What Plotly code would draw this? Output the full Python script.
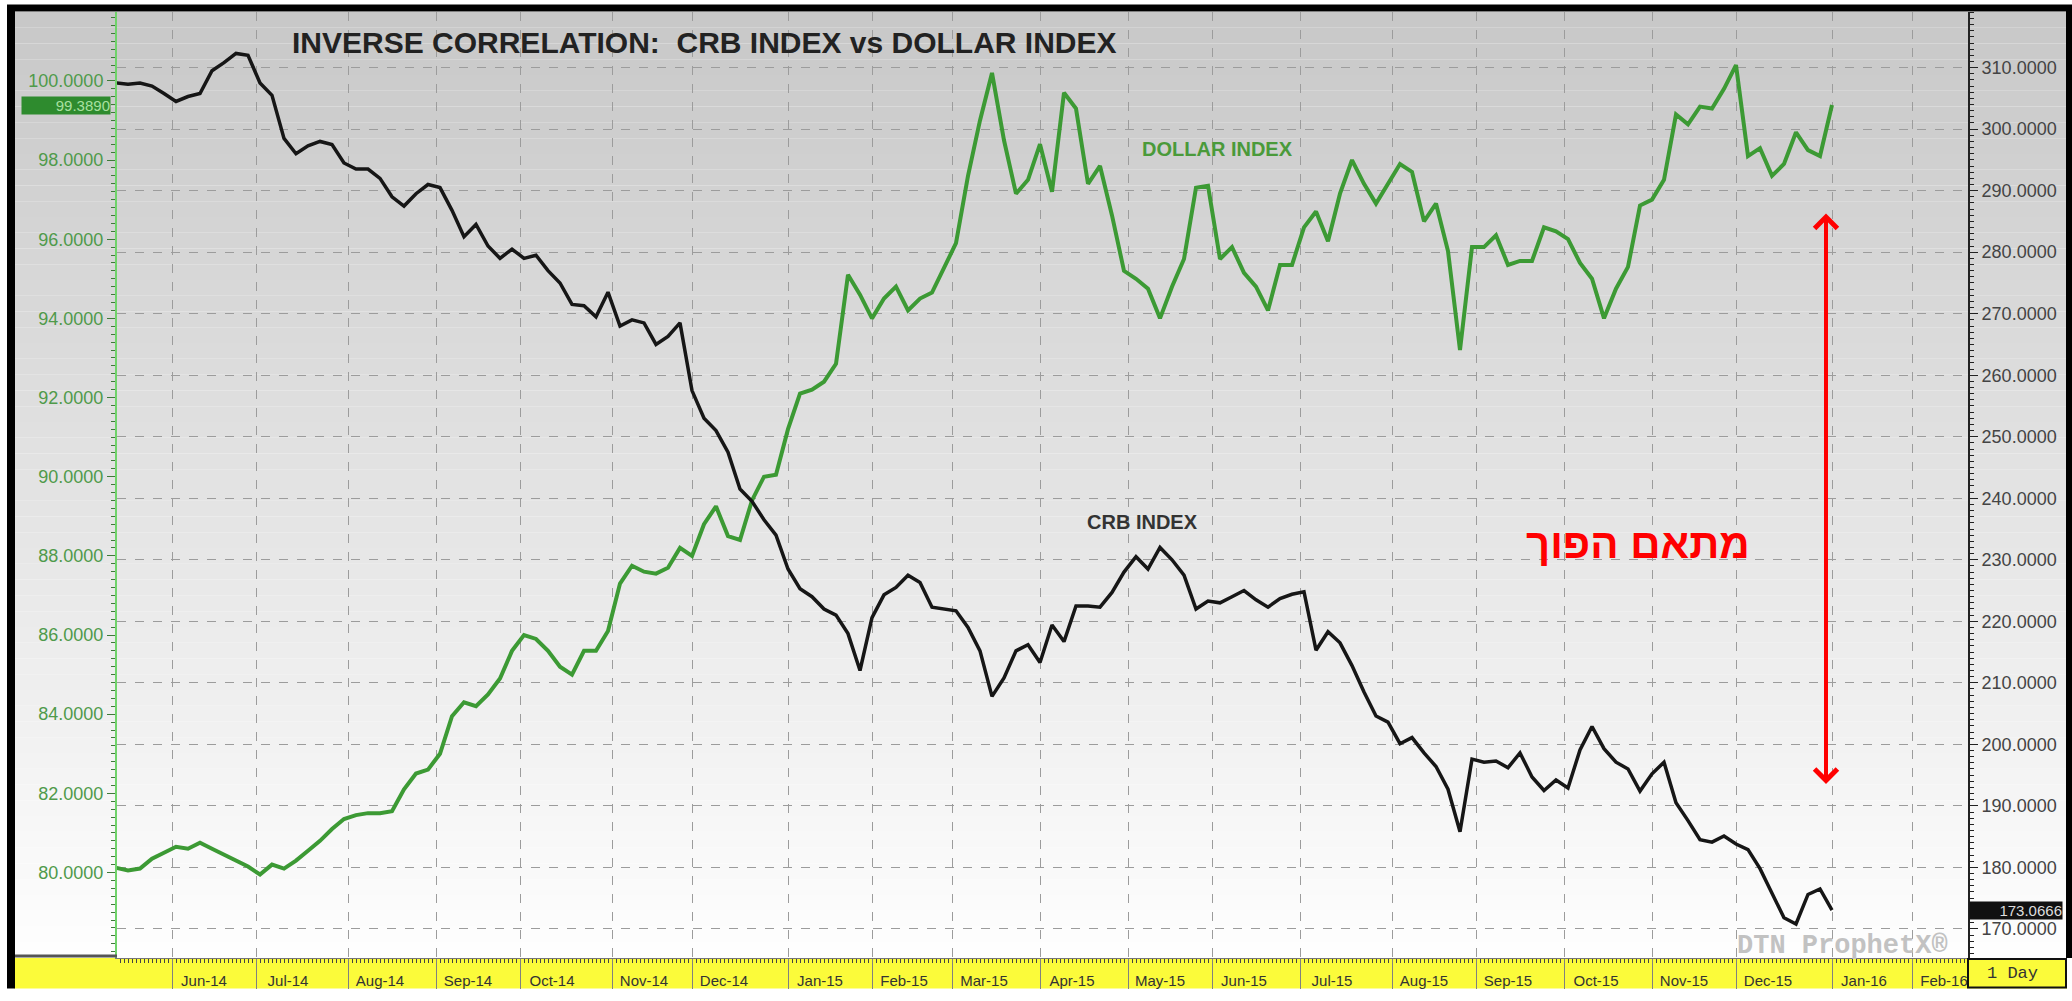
import plotly.graph_objects as go
import pandas as pd

# values, one reading every 3 trading days from 13 May 2014
crb_index = [
    307.5, 307.3, 307.5, 307.0, 305.8, 304.5, 305.3, 305.8, 309.5, 310.8,
    312.3, 312.0, 307.5, 305.5, 298.5, 296.0, 297.3, 298.0, 297.5, 294.5,
    293.5, 293.5, 292.0, 289.0, 287.5, 289.5, 291.0, 290.5, 286.8, 282.5,
    284.5, 281.0, 279.0, 280.5, 279.0, 279.5, 277.0, 275.0, 271.5, 271.3,
    269.5, 273.5, 268.0, 269.0, 268.5, 265.0, 266.3, 268.5, 257.5, 253.0,
    251.0, 247.5, 241.5, 239.5, 236.5, 234.0, 228.5, 225.3, 224.0, 222.0,
    221.0, 218.0, 212.0, 220.6, 224.3, 225.5, 227.5, 226.3, 222.3, 222.0,
    221.7, 219.0, 215.2, 207.8, 210.8, 215.2, 216.2, 213.3, 219.4, 216.7,
    222.5, 222.5, 222.3, 224.7, 228.0, 230.5, 228.5, 232.0, 230.0, 227.5,
    222.0, 223.3, 223.0, 224.0, 225.0, 223.5, 222.3, 223.7, 224.4, 224.8,
    215.3, 218.3, 216.5, 212.8, 208.5, 204.6, 203.6, 200.1, 201.1, 198.6,
    196.4, 192.7, 185.8, 197.6, 197.1, 197.3, 196.2, 198.6, 194.7, 192.5,
    194.2, 192.9, 199.1, 202.9, 199.3, 197.1, 196.0, 192.4, 195.2, 197.1,
    190.5, 187.6, 184.5, 184.1, 185.1, 183.8, 182.9, 179.8, 175.8, 171.8,
    170.8, 175.6, 176.5, 173.0666,
]

dollar_index = [
    80.12, 80.05, 80.10, 80.35, 80.50, 80.65, 80.60, 80.75, 80.60, 80.45,
    80.30, 80.15, 79.95, 80.20, 80.10, 80.30, 80.55, 80.80, 81.10, 81.35,
    81.45, 81.50, 81.50, 81.55, 82.10, 82.50, 82.60, 83.00, 83.95, 84.30,
    84.20, 84.50, 84.90, 85.60, 86.00, 85.90, 85.60, 85.20, 85.00, 85.60,
    85.60, 86.10, 87.30, 87.75, 87.60, 87.55, 87.70, 88.20, 88.00, 88.80,
    89.25, 88.50, 88.40, 89.40, 90.00, 90.05, 91.20, 92.10, 92.20, 92.40,
    92.85, 95.10, 94.60, 94.00, 94.50, 94.80, 94.20, 94.50, 94.65, 95.25,
    95.90, 97.60, 99.00, 100.20, 98.50, 97.15, 97.50, 98.40, 97.20, 99.70,
    99.30, 97.40, 97.85, 96.60, 95.20, 95.00, 94.75, 94.00, 94.80, 95.50,
    97.30, 97.35, 95.50, 95.80, 95.15, 94.80, 94.20, 95.35, 95.35, 96.30,
    96.70, 95.95, 97.15, 98.00, 97.40, 96.90, 97.40, 97.90, 97.70, 96.45,
    96.90, 95.70, 93.20, 95.80, 95.80, 96.10, 95.35, 95.45, 95.45, 96.30,
    96.20, 96.00, 95.40, 95.00, 94.00, 94.75, 95.30, 96.85, 97.00, 97.50,
    99.15, 98.90, 99.35, 99.30, 99.80, 100.40, 98.10, 98.30, 97.60, 97.90,
    98.70, 98.25, 98.10, 99.389,
]

month_ticks = [
    "2014-06-02", "2014-07-01", "2014-08-01", "2014-09-02", "2014-10-01",
    "2014-11-03", "2014-12-01", "2015-01-02", "2015-02-02", "2015-03-02",
    "2015-04-01", "2015-05-01", "2015-06-01", "2015-07-01", "2015-08-03",
    "2015-09-01", "2015-10-01", "2015-11-02", "2015-12-01", "2016-01-04",
    "2016-02-01",
]
month_labels = [
    "Jun-14", "Jul-14", "Aug-14", "Sep-14", "Oct-14", "Nov-14", "Dec-14",
    "Jan-15", "Feb-15", "Mar-15", "Apr-15", "May-15", "Jun-15", "Jul-15",
    "Aug-15", "Sep-15", "Oct-15", "Nov-15", "Dec-15", "Jan-16", "Feb-16",
]
dollar_ticks = [80, 82, 84, 86, 88, 90, 92, 94, 96, 98, 100]

dates = pd.bdate_range("2014-05-13", periods=len(crb_index), freq="3B")

W, H = 2072, 1001
L, R, T, B = 117, 1968, 12, 970
GREEN = "#3c9a34"
YELLOW = "#fbfb3a"
GRID = "#9c9c9c"
FONT = "Liberation Sans, Arial, sans-serif"


def px(x):
    return (x - L) / (R - L)


def py(y):
    return (B - y) / (B - T)


fig = go.Figure()

fig.add_trace(go.Scatter(
    x=dates, y=dollar_index, mode="lines", name="DOLLAR INDEX",
    line=dict(color=GREEN, width=4), yaxis="y",
))
fig.add_trace(go.Scatter(
    x=dates, y=crb_index, mode="lines", name="CRB INDEX",
    line=dict(color="#161616", width=3.5), yaxis="y2",
))

shapes = []
# grey-to-white background
n = 60
top_c, bot_c = 200, 254
for i in range(n):
    y0 = T + (B - T) * i / n
    y1 = T + (B - T) * (i + 1) / n
    c = round(top_c + (bot_c - top_c) * i / (n - 1))
    shapes.append(dict(
        type="rect", xref="paper", yref="paper", layer="below",
        x0=px(14), x1=px(2067), y0=py(y1), y1=py(y0),
        fillcolor=f"rgb({c},{c},{c})", line=dict(width=0),
    ))
# yellow date band and "1 Day" box
shapes.append(dict(type="rect", xref="paper", yref="paper", layer="below",
                   x0=px(14), x1=px(2067), y0=py(H), y1=0,
                   fillcolor=YELLOW, line=dict(width=0)))
shapes.append(dict(type="line", xref="paper", yref="paper", layer="above",
                   x0=px(14), x1=0, y0=py(968), y1=py(968),
                   line=dict(color="#555", width=3)))
shapes.append(dict(type="rect", xref="paper", yref="paper", layer="above",
                   x0=1, x1=px(2066), y0=py(H - 1), y1=py(971),
                   fillcolor=YELLOW, line=dict(color="#111", width=2)))
# outer frame
shapes.append(dict(type="line", xref="paper", yref="paper", layer="above",
                   x0=px(11), x1=px(11), y0=py(H), y1=py(5),
                   line=dict(color="#000", width=8)))
shapes.append(dict(type="line", xref="paper", yref="paper", layer="above",
                   x0=px(7), x1=px(W), y0=py(8), y1=py(8),
                   line=dict(color="#000", width=7)))
shapes.append(dict(type="line", xref="paper", yref="paper", layer="above",
                   x0=px(2069), x1=px(2069), y0=py(970), y1=py(5),
                   line=dict(color="#000", width=6)))

annotations = [
    dict(text="<b>INVERSE CORRELATION:  CRB INDEX vs DOLLAR INDEX</b>",
         x=px(704), y=py(43), font=dict(size=30, color="#222", family=FONT)),
    dict(text="<b>DOLLAR INDEX</b>", x=px(1217), y=py(151),
         font=dict(size=20, color="#4a9a3a", family=FONT)),
    dict(text="<b>CRB INDEX</b>", x=px(1142), y=py(528),
         font=dict(size=20, color="#333", family=FONT)),
    dict(text="<b>מתאם הפוך</b>", x=px(1638), y=py(550),
         font=dict(size=42, color="#ff0000", family="Liberation Sans, DejaVu Sans")),
    dict(text="<b>DTN ProphetX®</b>", x=px(1842), y=py(958),
         font=dict(size=27, color="#c2c2c2", family="Liberation Mono, monospace")),
    dict(text="1 Day", x=px(2012), y=py(986),
         font=dict(size=17, color="#333", family="Liberation Mono, monospace")),
    # double headed red arrow
    dict(text="", x=px(1826), y=py(216), ax=0, ay=572, showarrow=True,
         arrowhead=4, startarrowhead=4, arrowside="end+start",
         arrowsize=1.1, startarrowsize=1.1, arrowwidth=4, arrowcolor="#ff0000"),
    # last value flags
    dict(text=f"{dollar_index[-1]:.4f}", xref="paper", yref="y", x=0, y=dollar_index[-1],
         xanchor="right", xshift=-6, width=88, align="right", bgcolor="#2e8b2e",
         font=dict(size=15, color="#a8e0a0", family=FONT), borderpad=0),
    dict(text=f"{crb_index[-1]:.4f}", xref="paper", yref="y2", x=1, y=crb_index[-1],
         xanchor="left", xshift=1, width=92, align="right", bgcolor="#111",
         font=dict(size=15, color="#dddddd", family=FONT), borderpad=0),
]
for a in annotations:
    a.setdefault("xref", "paper")
    a.setdefault("yref", "paper")
    a.setdefault("xanchor", "center")
    a.setdefault("yanchor", "middle")
    a.setdefault("showarrow", False)

fig.update_layout(
    width=W, height=H,
    margin=dict(l=L, r=W - R, t=T, b=H - B),
    paper_bgcolor="white",
    plot_bgcolor="rgba(0,0,0,0)",
    showlegend=False,
    shapes=shapes,
    annotations=annotations,
    font=dict(family=FONT),
    xaxis=dict(
        type="date",
        range=["2014-05-13 06:00", "2016-02-19"],
        rangebreaks=[dict(bounds=["sat", "mon"])],
        tickvals=month_ticks, ticktext=month_labels,
        ticks="outside", ticklen=30, tickcolor="#808080", tickwidth=1,
        ticklabelshift=32, ticklabelstandoff=-21,
        tickfont=dict(size=15, color="#333"),
        showgrid=True, gridcolor=GRID, griddash="dash", gridwidth=1,
        showline=True, linecolor="#777", linewidth=1,
        minor=dict(ticks="outside", ticklen=4, tickcolor="#444",
                   dtick=86400000, showgrid=False),
        zeroline=False,
    ),
    yaxis=dict(
        range=[77.84, 101.74],
        tickvals=dollar_ticks, tickformat=".4f",
        tickfont=dict(size=18, color="#4f9a4a"),
        ticks="outside", ticklen=8, tickcolor="#3f7a3a",
        minor=dict(ticks="outside", ticklen=4, dtick=0.2, tickcolor="#3f7a3a"),
        showgrid=False, zeroline=False,
        showline=True, linecolor="#6fd36a", linewidth=2,
    ),
    yaxis2=dict(
        range=[165.27, 319.04], overlaying="y", side="right",
        tick0=0, dtick=10, tickformat=".4f",
        tickfont=dict(size=18, color="#444"),
        ticks="outside", ticklen=8, tickcolor="#222",
        minor=dict(ticks="outside", ticklen=4, dtick=1, tickcolor="#222"),
        showgrid=True, gridcolor=GRID, griddash="dash", gridwidth=1,
        zeroline=False,
        showline=True, linecolor="#222", linewidth=2,
    ),
)

fig.write_html(
    "out.html",
    config={"displayModeBar": False},
    post_script="document.body.style.margin='0';document.body.style.overflow='hidden';",
)
